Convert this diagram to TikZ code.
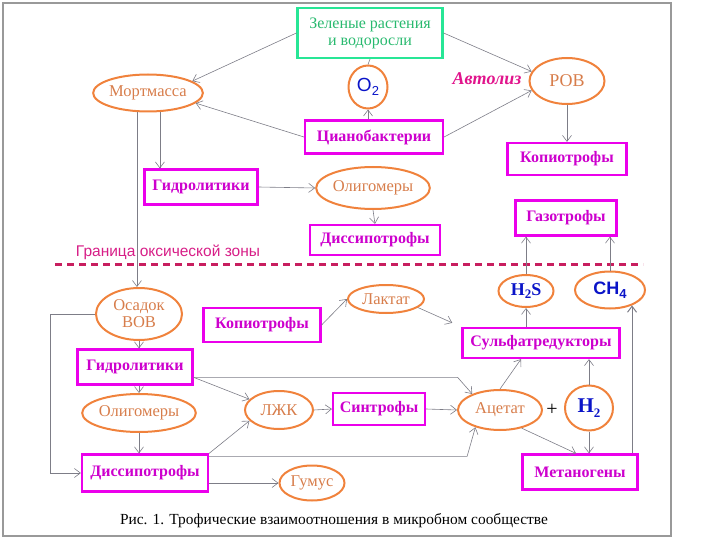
\documentclass[tikz,border=0pt]{standalone}
\usepackage{fontspec}
\setmainfont{Liberation Serif}
\newfontfamily\zonefont{Liberation Sans}
\usetikzlibrary{shapes.geometric,arrows.meta}
\definecolor{mag}{RGB}{235,0,235}
\definecolor{magtext}{RGB}{205,0,205}
\definecolor{orng}{RGB}{240,130,60}
\definecolor{orngtext}{RGB}{215,125,75}
\definecolor{grn}{RGB}{40,230,150}
\definecolor{grntext}{RGB}{40,185,110}
\definecolor{blu}{RGB}{10,20,200}
\definecolor{arr}{RGB}{125,125,135}
\definecolor{zone}{RGB}{200,30,95}
\definecolor{zonetext}{RGB}{215,30,135}
\definecolor{autol}{RGB}{225,20,140}
\newcommand\gsub[1]{\raisebox{-.45ex}{\fontsize{13}{13}\selectfont#1}}
\tikzset{
  mbox/.style={draw=mag,line width=2.2pt,text=magtext,font=\bfseries\fontsize{16}{18}\selectfont,inner sep=1pt},
  gbox/.style={draw=grn,line width=2.2pt,text=grntext,font=\fontsize{16}{17}\selectfont,align=center,inner sep=1pt},
  oval/.style={ellipse,draw=orng,line width=2pt,text=orngtext,font=\fontsize{16.5}{17}\selectfont,inner sep=0pt,align=center},
  gas/.style={oval,text=blu,font=\bfseries\fontsize{18}{19}\selectfont},
  link/.style={draw=arr,line width=.6pt,-{Straight Barb[length=6pt,width=9pt]}},
}
\begin{document}
\begin{tikzpicture}[x=1pt,y=-1pt]
\path[use as bounding box] (0,0) rectangle (720,540);
\draw[black!40,line width=2.6pt] (3,3) rectangle (671,536);
\node[gbox,minimum width=145,minimum height=50] (rast) at (370,33) {Зеленые растения\\и водоросли};
\node[oval,minimum width=105,minimum height=37] (mort) at (148,93) {Мортмасса};
\node[gas,font=\zonefont\fontsize{19}{19}\selectfont,minimum width=39,minimum height=43] (otwo) at (368,87) {O\gsub{2}};
\node[text=autol,font=\bfseries\itshape\fontsize{18}{20}\selectfont] (avtoliz) at (487,79) {Автолиз};
\node[oval,font=\fontsize{18}{19}\selectfont,minimum width=75,minimum height=46] (rov) at (567,81) {РОВ};
\node[mbox,minimum width=138,minimum height=33] (ciano) at (374,137) {Цианобактерии};
\node[mbox,minimum width=119,minimum height=32] (kopio) at (567,159) {Копиотрофы};
\node[mbox,minimum width=113,minimum height=35] (gidr) at (201,187) {Гидролитики};
\node[oval,minimum width=110,minimum height=42] (olig) at (373,188) {Олигомеры};
\node[mbox,minimum width=130,minimum height=30] (dissip) at (375,240) {Диссипотрофы};
\node[mbox,minimum width=101,minimum height=35] (gazo) at (566,218) {Газотрофы};
\node[text=zonetext,font=\zonefont\fontsize{15.5}{17}\selectfont] (granica) at (168,252) {Граница оксической зоны};
\draw[zone,line width=3pt,dash pattern=on 7pt off 5pt] (55,264) -- (643,264);
\node[gas,minimum width=55,minimum height=32] (hs) at (526,291) {H\gsub{2}S};
\node[gas,font=\bfseries\zonefont\fontsize{18}{18}\selectfont,minimum width=70,minimum height=37] (chf) at (610,290) {CH\gsub{4}};
\node[oval,minimum width=86,minimum height=52] (osadok) at (139,314) {Осадок\\ВОВ};
\node[oval,minimum width=76,minimum height=28] (laktat) at (386,299) {Лактат};
\node[mbox,minimum width=117,minimum height=34] (kopiob) at (262,325) {Копиотрофы};
\node[mbox,minimum width=157,minimum height=30] (sulf) at (541,343) {Сульфатредукторы};
\node[mbox,minimum width=115,minimum height=35] (gidrb) at (135,367) {Гидролитики};
\node[oval,minimum width=108,minimum height=38] (oligb) at (139,413) {Олигомеры};
\node[oval,minimum width=68,minimum height=38] (lzhk) at (279,410) {ЛЖК};
\node[mbox,minimum width=92,minimum height=32] (sintr) at (379,409) {Синтрофы};
\node[oval,minimum width=84,minimum height=40] (acet) at (500,410) {Ацетат};
\node[font=\fontsize{20}{20}\selectfont] (plus) at (552,410) {+};
\node[gas,font=\bfseries\fontsize{21}{21}\selectfont,minimum width=48,minimum height=45] (htwo) at (589,408) {H\gsub{2}};
\node[mbox,minimum width=115,minimum height=35] (metan) at (580,472) {Метаногены};
\node[mbox,minimum width=126,minimum height=37] (dissipb) at (145,473) {Диссипотрофы};
\node[oval,minimum width=65,minimum height=35] (gumus) at (312,483) {Гумус};
\node[font=\fontsize{15.4}{17}\selectfont] (caption) at (334,521) {Рис. 1. Трофические взаимоотношения в микробном сообществе};
\draw[link] (rast.west) -- (mort.15);
\draw[link] (rast.east) -- (rov.165);
\draw[draw=arr,line width=.6pt] (rast.south) -- (otwo.north);
\draw[link] (ciano.north -| otwo.south) -- (otwo.south);
\draw[link] (ciano.west) -- (mort.-12);
\draw[link] (ciano.east) -- (rov.195);
\draw[link] (rov.south) -- (kopio.north);
\draw[link] (mort.-58) -- (mort.-58 |- gidr.north);
\draw[link] (mort.-120) -- (mort.-120 |- osadok.north);
\draw[link] (gidr.east) -- (olig.west);
\draw[link] (olig.south) -- (dissip.north);
\draw[link] (hs.north) -- (hs.north |- gazo.south);
\draw[link] (chf.north) -- (chf.north |- gazo.south);
\draw[link] (osadok.south) -- (osadok.south |- gidrb.north);
\draw[link] (osadok.west) -- ++(-45,0) |- (dissipb.west);
\draw[link] (kopiob.east) -- (laktat.west);
\draw[link,shorten >=10pt] (laktat.-15) -- (sulf.north west);
\draw[link] (hs.south |- sulf.north) -- (hs.south);
\draw[link] (gidrb.south -| oligb.north) -- (oligb.north);
\draw[link] (oligb.south) -- (oligb.south |- dissipb.north);
\draw[link] (gidrb.-10) -- (lzhk.160);
\draw[link] (gidrb.-10) -- ++(264,0) -- (acet.150);
\draw[link] (dissipb.north east) -- (lzhk.-160);
\draw[link] ([yshift=-3pt]dissipb.north east) -- ++(258,0) -- (acet.-145);
\draw[link] (dissipb.east |- gumus.west) -- (gumus.west);
\draw[link] (lzhk.east) -- (sintr.west);
\draw[link] (sintr.east) -- (acet.west);
\draw[link] (acet.north) -- ([xshift=-20pt]sulf.south);
\draw[link] (htwo.north) -- (htwo.north |- sulf.south);
\draw[link] (acet.-40) -- ([xshift=-4pt]metan.north);
\draw[link] (htwo.south) -- (htwo.south |- metan.north);
\draw[link,line width=1pt] (metan.north -| chf.-35) -- (chf.-35);
\end{tikzpicture}
\end{document}
